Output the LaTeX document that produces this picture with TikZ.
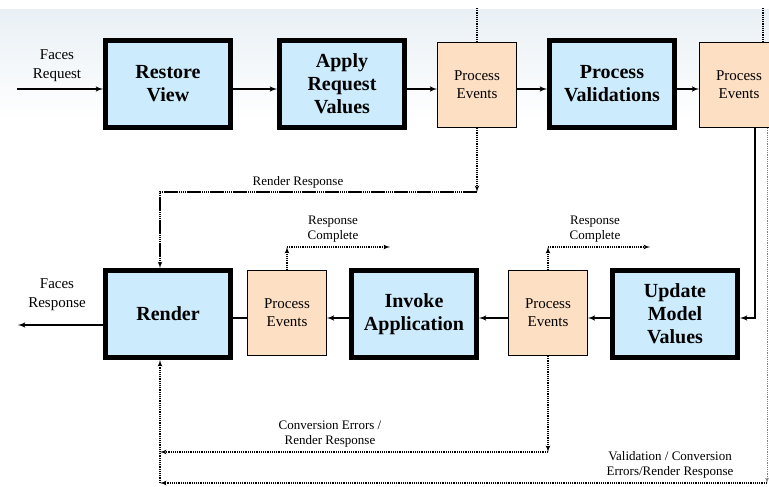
\documentclass[tikz,border=0pt]{standalone}
\usepackage{fontspec}
\setmainfont{Liberation Serif}
\usetikzlibrary{arrows}
\definecolor{phaseblue}{RGB}{204,235,252}
\definecolor{peach}{RGB}{253,223,195}
\definecolor{bandgray}{RGB}{233,240,245}

\begin{document}
\begin{tikzpicture}[x=1pt,y=-1pt]
        \tikzset{phase/.style = {shape=rectangle,draw,line width=5pt,fill=phaseblue,minimum width=125pt,minimum height=87pt,align=center,font=\fontsize{20}{23}\selectfont\bfseries}}
        \tikzset{events/.style = {shape=rectangle,draw,line width=0.8pt,fill=peach,minimum width=79pt,minimum height=85pt,align=center,font=\fontsize{15}{18}\selectfont}}
        \tikzset{flow/.style = {->,> = latex',line width=1.5pt}}
        \tikzset{jump/.style = {->,> = latex',line width=1.2pt,densely dotted}}
        \tikzset{mixed/.style = {->,> = latex',line width=1.1pt,dash pattern=on 14pt off 1pt on 1pt off 1pt on 1pt off 1pt on 1pt off 1pt on 1pt off 1pt}}
        \tikzset{lbl/.style = {align=center,inner sep=0pt,font=\fontsize{13}{15}\selectfont}}
        \useasboundingbox (0,0) rectangle (769,487);
        \fill[white] (0,0) rectangle (769,487);
        \fill[top color=bandgray,bottom color=white] (0,10) rectangle (769,120);
        % phases
        \node[phase] (restore) at (168,84) {Restore\\View};
        \node[phase] (apply) at (342,84) {Apply\\Request\\Values};
        \node[events] (evA) at (477,85) {Process\\Events};
        \node[phase] (valid) at (612,84) {Process\\Validations};
        \node[events] (evB) at (739,85) {Process\\Events};
        \node[phase] (render) at (168,314) {Render};
        \node[events] (evC) at (287,313) {Process\\Events};
        \node[phase] (invoke) at (414,314) {Invoke\\Application};
        \node[events] (evD) at (548,313) {Process\\Events};
        \node[phase] (update) at (675,314) {Update\\Model\\Values};
        % labels
        \node[lbl,font=\fontsize{15}{19}\selectfont] (facesIn) at (57,66) {Faces\\Request};
        \node[lbl,font=\fontsize{15}{19}\selectfont] (facesOut) at (57,295) {Faces\\Response};
        \node[lbl] (renderResp) at (298,182) {Render Response};
        \node[lbl] (doneC) at (333,229) {Response\\Complete};
        \node[lbl] (doneD) at (595,229) {Response\\Complete};
        \node[lbl] (convErr) at (330,434) {Conversion Errors /\\Render Response};
        \node[lbl] (validErr) at (670,465) {Validation / Conversion\\Errors/Render Response};
        % free ends and bends
        \coordinate (inR) at (17,89);
        \coordinate (outR) at (18,325);
        \coordinate (topA) at (477,8);
        \coordinate (topB) at (763,8);
        \coordinate (downA) at (477,192);
        \coordinate (leftR) at (160,192);
        \coordinate (bendB) at (755,318);
        \coordinate (sideB) at (767,483);
        \coordinate (lowR) at (160,483);
        \coordinate (midR) at (160,452);
        \coordinate (downD) at (548,452);
        \coordinate (upC) at (287,247);
        \coordinate (endC) at (390,247);
        \coordinate (upD) at (548,247);
        \coordinate (endD) at (650,247);
        % edges
        \draw[flow] (inR) -- (inR -| restore.west);
        \draw[flow] ([yshift=-5pt]restore.east) -- ([yshift=-5pt]apply.west);
        \draw[flow] ([yshift=-5pt]apply.east) -- ([yshift=-4pt]evA.west);
        \draw[flow] ([yshift=-4pt]evA.east) -- ([yshift=-5pt]valid.west);
        \draw[flow] ([yshift=-5pt]valid.east) -- ([yshift=-4pt]evB.west);
        \draw[flow] (bendB |- evB.south) -- (bendB) -- (bendB -| update.east);
        \draw[flow] ([yshift=-4pt]update.west) -- ([yshift=-5pt]evD.east);
        \draw[flow] ([yshift=-5pt]evD.west) -- ([yshift=-4pt]invoke.east);
        \draw[flow] ([yshift=-4pt]invoke.west) -- ([yshift=-5pt]evC.east);
        \draw[line width=1.5pt] ([yshift=-5pt]evC.west) -- ([yshift=-4pt]render.east);
        \draw[flow] (outR -| render.west) -- (outR);
        % dotted jumps
        \draw[jump,-] (topA) -- (evA);
        \draw[jump,-] (topB) -- (topB |- evB.north);
        \draw[jump] (evA) -- (downA);
        \draw[mixed] (downA) -- (leftR) -- (leftR |- render.north);
        \draw[jump] (evC) -- (upC);
        \draw[jump] (upC) -- (endC);
        \draw[jump] (evD) -- (upD);
        \draw[jump] (upD) -- (endD);
        \draw[jump] (evD) -- (downD);
        \draw[jump] (downD) -- (midR);
        \draw[jump,line width=0.8pt,gray] (sideB |- evB.south) -- (sideB);
        \draw[jump] (sideB) -- (lowR);
        \draw[jump] (lowR) -- (lowR |- render.south);
\end{tikzpicture}
\end{document}
